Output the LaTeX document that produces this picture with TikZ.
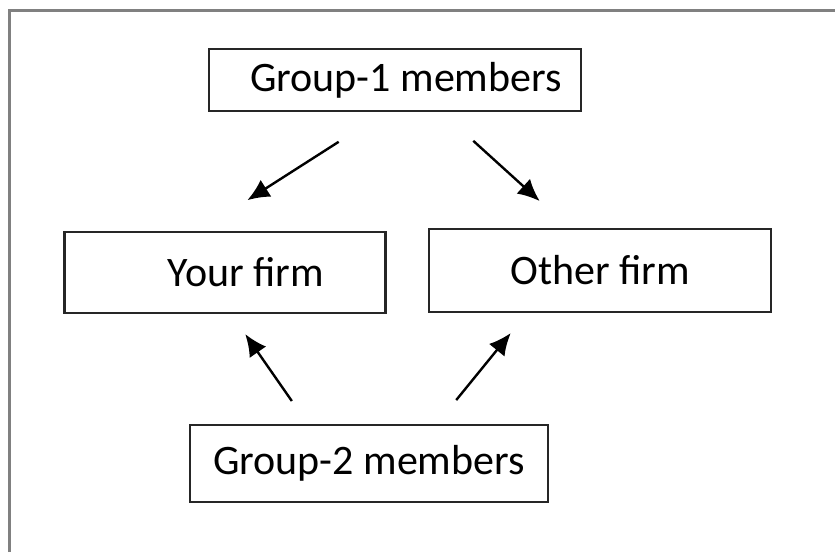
\documentclass[tikz,border=0pt]{standalone}
\usepackage{fontspec}
\setmainfont{Carlito}
\usetikzlibrary{arrows.meta}

\begin{document}
\begin{tikzpicture}[x=0.5pt, y=-0.5pt,
        firmbox/.style={draw=black!85, line width=1.2pt, rectangle, inner sep=0pt,
            font=\fontsize{21}{25}\selectfont},
        link/.style={-{Latex[length=11pt,width=10pt]}, line width=1.2pt}]
        \useasboundingbox (0,0) rectangle (835,552);

        % outer frame (top and left only)
        \draw[gray, line width=1.5pt] (9,552) -- (9,10) -- (835,10);

        \node[firmbox, minimum width=186pt, minimum height=31pt] (grpone) at (395,80) {\hspace*{11pt}Group-1 members};
        \node[firmbox, minimum width=160.5pt, minimum height=40.5pt] (yours) at (225,272.5) {\hspace*{21pt}Your firm};
        \node[firmbox, minimum width=171pt, minimum height=41.5pt] (other) at (600,270.5) {Other firm};
        \node[firmbox, minimum width=179pt, minimum height=38.5pt] (grptwo) at (369,463.5) {Group-2 members};

        \draw[link, shorten <=27.5pt, shorten >=28.4pt] ([xshift=-5pt]grpone.south) -- ([xshift=-12.75pt]yours.north);
        \draw[link, shorten <=21.3pt, shorten >=19.9pt] ([xshift=23.35pt]grpone.south) -- ([xshift=-15.4pt]other.north);

        \draw[link, shorten <=13.9pt, shorten >=12.1pt] ([xshift=-30.65pt]grptwo.north) -- ([xshift=3.2pt]yours.south);
        \draw[link, shorten <=15.3pt, shorten >=12.8pt] ([xshift=33.95pt]grptwo.north) -- ([xshift=-36.55pt]other.south);

    \end{tikzpicture}
\end{document}
